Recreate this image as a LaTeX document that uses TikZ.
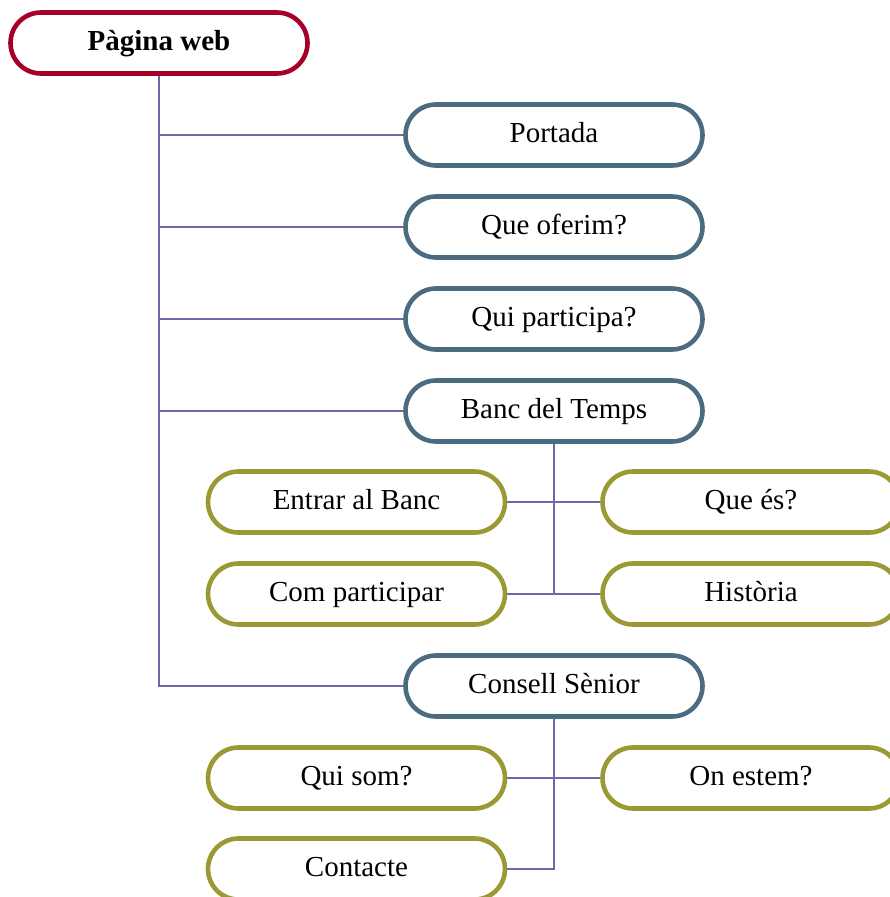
\documentclass[tikz,border=0pt]{standalone}
\usepackage{fontspec}
\setmainfont{Liberation Serif}
\usetikzlibrary{shapes.misc}
\definecolor{rootred}{RGB}{166,0,40}
\definecolor{mainblue}{RGB}{75,108,128}
\definecolor{subolive}{RGB}{155,153,52}
\definecolor{linkpurple}{RGB}{110,105,165}
\begin{document}
\begin{tikzpicture}[x=1pt,y=-1pt,
  box/.style={rounded rectangle, draw, line width=4.6pt, fill=white, minimum width=297pt, minimum height=61pt, inner sep=0pt, text height=20.5pt, text depth=6pt, font=\fontsize{29}{34}\selectfont},
  main/.style={box, draw=mainblue},
  sub/.style={box, draw=subolive},
  link/.style={draw=linkpurple, line width=1.8pt}]
\useasboundingbox (0,0) rectangle (889,897);
\node[box, draw=rootred, font=\bfseries\fontsize{29}{34}\selectfont] (tid0) at (159,43){Pàgina web};
\node[main] (tid1) at (554,135){Portada};
\node[main] (tid2) at (554,227){Que oferim?};
\node[main] (tid3) at (554,319){Qui participa?};
\node[main] (tid4) at (554,411){Banc del Temps};
\node[main] (tid5) at (554,686){Consell Sènior};
\node[sub] (tid6) at (356.5,502){Entrar al Banc};
\node[sub] (tid7) at (751,502){Que és?};
\node[sub] (tid8) at (356.5,594){Com participar};
\node[sub] (tid9) at (751,594){Història};
\node[sub] (tid10) at (356.5,778){Qui som?};
\node[sub] (tid11) at (751,778){On estem?};
\node[sub] (tid12) at (356.5,869){Contacte};
\draw[link](tid0.south) |- (tid1.west);
\draw[link](tid0.south) |- (tid2.west);
\draw[link](tid0.south) |- (tid3.west);
\draw[link](tid0.south) |- (tid4.west);
\draw[link](tid0.south) |- (tid5.west);
\draw[link](tid6.east) -- (tid7.west);
\draw[link](tid8.east) -- (tid9.west);
\draw[link](tid4.south) -- (tid4.south |- tid8.east);
\draw[link](tid10.east) -- (tid11.west);
\draw[link](tid5.south) |- (tid12.east);
\end{tikzpicture}
\end{document}
